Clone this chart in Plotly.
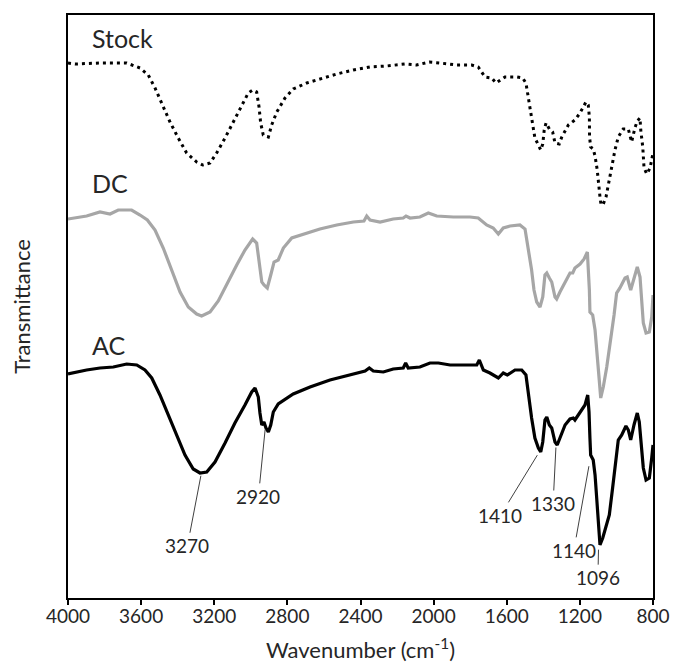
import numpy as np
import plotly.graph_objects as go

# ---------------- data ----------------
stock_wn = [4000, 3962, 3825, 3679, 3606, 3561, 3524, 3487, 3442, 3397, 3351, 3296, 3263, 3223, 3187, 3141,
            3096, 3050, 3014, 2990, 2968, 2955, 2946, 2932, 2904, 2886, 2858, 2813, 2768, 2694, 2622, 2530,
            2439, 2348, 2257, 2157, 2093, 2024, 1965, 1874, 1792, 1756, 1719, 1682, 1659, 1610, 1546, 1513,
            1495, 1482, 1469, 1458, 1446, 1427, 1414, 1403, 1395, 1385, 1367, 1349, 1336, 1313, 1299, 1281,
            1263, 1227, 1203, 1181, 1167, 1154, 1148, 1147, 1141, 1127, 1117, 1105, 1099, 1090, 1084, 1072,
            1057, 1045, 1026, 1008, 990, 963, 935, 917, 899, 886, 871, 867, 856, 849, 834, 816, 800]
stock_t = [535, 534, 535, 535, 530, 523, 510, 495, 476, 460, 445, 436, 433, 435, 445, 460,
           476, 493, 505, 508, 506, 491, 475, 463, 461, 473, 486, 500, 509, 515, 519, 524,
           528, 531, 532, 534, 533, 536, 535, 533, 533, 531, 521, 520, 515, 521, 521, 520,
           515, 501, 486, 473, 460, 453, 448, 454, 468, 475, 469, 466, 455, 454, 461, 467,
           473, 478, 484, 491, 496, 493, 481, 461, 451, 449, 442, 428, 415, 401, 393, 394,
           401, 413, 428, 448, 461, 469, 469, 456, 470, 477, 480, 468, 451, 430, 424, 430, 445]

dc_wn = [4000, 3898, 3825, 3770, 3725, 3652, 3606, 3566, 3524, 3479, 3433, 3387, 3342, 3296, 3269, 3223,
         3178, 3132, 3077, 3032, 2990, 2968, 2954, 2940, 2928, 2910, 2891, 2873, 2850, 2822, 2776, 2713,
         2622, 2530, 2439, 2381, 2366, 2348, 2293, 2221, 2166, 2151, 2129, 2075, 2029, 1983, 1892, 1801,
         1756, 1710, 1674, 1646, 1619, 1582, 1528, 1500, 1482, 1464, 1451, 1436, 1418, 1403, 1391, 1381,
         1367, 1354, 1336, 1327, 1309, 1281, 1254, 1239, 1227, 1199, 1177, 1159, 1154, 1148, 1145, 1130,
         1117, 1105, 1094, 1086, 1072, 1053, 1031, 1013, 999, 981, 953, 941, 922, 904, 886, 871,
         862, 853, 838, 820, 807, 800]
dc_t = [379, 382, 386, 384, 388, 388, 383, 378, 368, 350, 328, 306, 291, 284, 282, 286,
        297, 314, 333, 348, 359, 355, 336, 316, 313, 310, 323, 336, 338, 350, 360, 364,
        369, 373, 376, 377, 382, 378, 376, 379, 380, 382, 380, 381, 385, 382, 381, 381,
        380, 373, 370, 364, 370, 372, 373, 369, 350, 328, 308, 296, 291, 301, 323, 325,
        320, 316, 301, 299, 306, 316, 325, 325, 330, 334, 339, 346, 331, 308, 286, 283,
        268, 245, 218, 200, 211, 231, 258, 283, 305, 310, 320, 321, 308, 320, 331, 321,
        301, 275, 265, 266, 281, 303]

ac_wn = [4000, 3898, 3825, 3752, 3679, 3624, 3579, 3542, 3497, 3451, 3405, 3360, 3315, 3278, 3241, 3196,
         3141, 3087, 3032, 2995, 2977, 2959, 2950, 2940, 2928, 2917, 2904, 2891, 2877, 2850, 2768, 2676,
         2567, 2457, 2375, 2352, 2330, 2275, 2221, 2166, 2153, 2139, 2075, 2020, 1974, 1910, 1838, 1764,
         1750, 1728, 1692, 1646, 1619, 1597, 1555, 1518, 1495, 1482, 1464, 1446, 1427, 1414, 1403, 1391,
         1381, 1367, 1354, 1336, 1324, 1309, 1281, 1254, 1236, 1227, 1199, 1172, 1157, 1150, 1145, 1141,
         1127, 1117, 1108, 1099, 1090, 1075, 1057, 1039, 1021, 1002, 990, 971, 959, 948, 935, 922,
         904, 886, 875, 862, 853, 838, 820, 807, 800]
ac_t = [224, 228, 230, 231, 234, 233, 228, 220, 203, 183, 161, 143, 129, 125, 126, 136,
        155, 175, 193, 206, 210, 201, 185, 173, 176, 170, 166, 173, 186, 194, 204, 211,
        218, 223, 227, 230, 227, 226, 229, 230, 235, 230, 231, 235, 235, 233, 233, 233,
        238, 228, 225, 220, 225, 223, 228, 228, 223, 203, 180, 160, 150, 146, 156, 178,
        181, 173, 170, 156, 153, 160, 173, 179, 180, 178, 186, 193, 203, 186, 160, 143,
        138, 123, 100, 73, 53, 60, 71, 83, 110, 140, 158, 163, 168, 172, 168, 158,
        173, 185, 176, 153, 130, 118, 120, 140, 153]

series_names = ["Stock", "DC", "AC"]
peak_wn = [3270, 2920, 1410, 1330, 1140, 1096]
peak_labels = ["3270", "2920", "1410", "1330", "1140", "1096"]
x_ticks = [4000, 3600, 3200, 2800, 2400, 2000, 1600, 1200, 800]

# ---------------- styling ----------------
FONT = "Lato"
TXT = "#262626"

fig = go.Figure()
fig.add_trace(go.Scatter(x=stock_wn, y=stock_t, mode="lines", name="Stock",
                         line=dict(color="black", width=3, dash="3px,4px")))
fig.add_trace(go.Scatter(x=dc_wn, y=dc_t, mode="lines", name="DC",
                         line=dict(color="#a6a6a6", width=3.2)))
fig.add_trace(go.Scatter(x=ac_wn, y=ac_t, mode="lines", name="AC",
                         line=dict(color="black", width=3.2)))

# series labels placed just above each curve's left plateau
label_offsets = [25, 36, 29]
for name, tvals, off in zip(series_names, [stock_t, dc_t, ac_t], label_offsets):
    fig.add_annotation(x=3880, y=tvals[0] + off, text=name, showarrow=False,
                       xanchor="left", yanchor="middle",
                       font=dict(family=FONT, size=25, color=TXT))

# peak labels with leader lines (heads on the AC curve)
ac_wn_arr = np.array(ac_wn[::-1], dtype=float)
ac_t_arr = np.array(ac_t[::-1], dtype=float)
peak_style = {  # (ax, ay, standoff) in pixels
    "3270": (-14, 73, 3),
    "2920": (-7, 70, 3),
    "1410": (-41, 67, 8),
    "1330": (-3, 60, 4),
    "1140": (-17, 95, 11),
    "1096": (-1, 46, 18),
}
for wn, lab in zip(peak_wn, peak_labels):
    ax, ay, so = peak_style[lab]
    fig.add_annotation(x=wn, y=float(np.interp(wn, ac_wn_arr, ac_t_arr)), text=lab,
                       showarrow=True, arrowhead=0, arrowwidth=1, arrowcolor="#404040",
                       ax=ax, ay=ay, standoff=so,
                       font=dict(family=FONT, size=19, color=TXT))

fig.update_layout(
    width=673, height=667,
    margin=dict(l=68, r=20, t=15, b=69),
    plot_bgcolor="white", paper_bgcolor="white",
    showlegend=False,
    font=dict(family=FONT, color=TXT),
)
fig.update_xaxes(
    range=[4000, 800], tickvals=x_ticks, ticktext=[str(v) for v in x_ticks],
    ticks="outside", ticklen=5, tickwidth=1.5, tickcolor="black",
    ticklabelstandoff=-5,
    showline=True, linecolor="black", linewidth=1.5, mirror=True,
    showgrid=False, zeroline=False, automargin=False,
    tickfont=dict(family=FONT, size=19, color=TXT),
    title=dict(text="Wavenumber (cm<sup>-1</sup>)", font=dict(family=FONT, size=22, color=TXT), standoff=17),
)
fig.update_yaxes(
    range=[0, 583], showticklabels=False, ticks="",
    showline=True, linecolor="black", linewidth=1.5, mirror=True,
    showgrid=False, zeroline=False, automargin=False,
    title=dict(text="Transmittance", font=dict(family=FONT, size=22, color=TXT), standoff=30),
)

fig.write_html(
    "out.html",
    config={"displayModeBar": False},
    post_script="document.body.style.margin='0';document.body.style.padding='0';"
                "document.documentElement.style.overflow='hidden';",
)
